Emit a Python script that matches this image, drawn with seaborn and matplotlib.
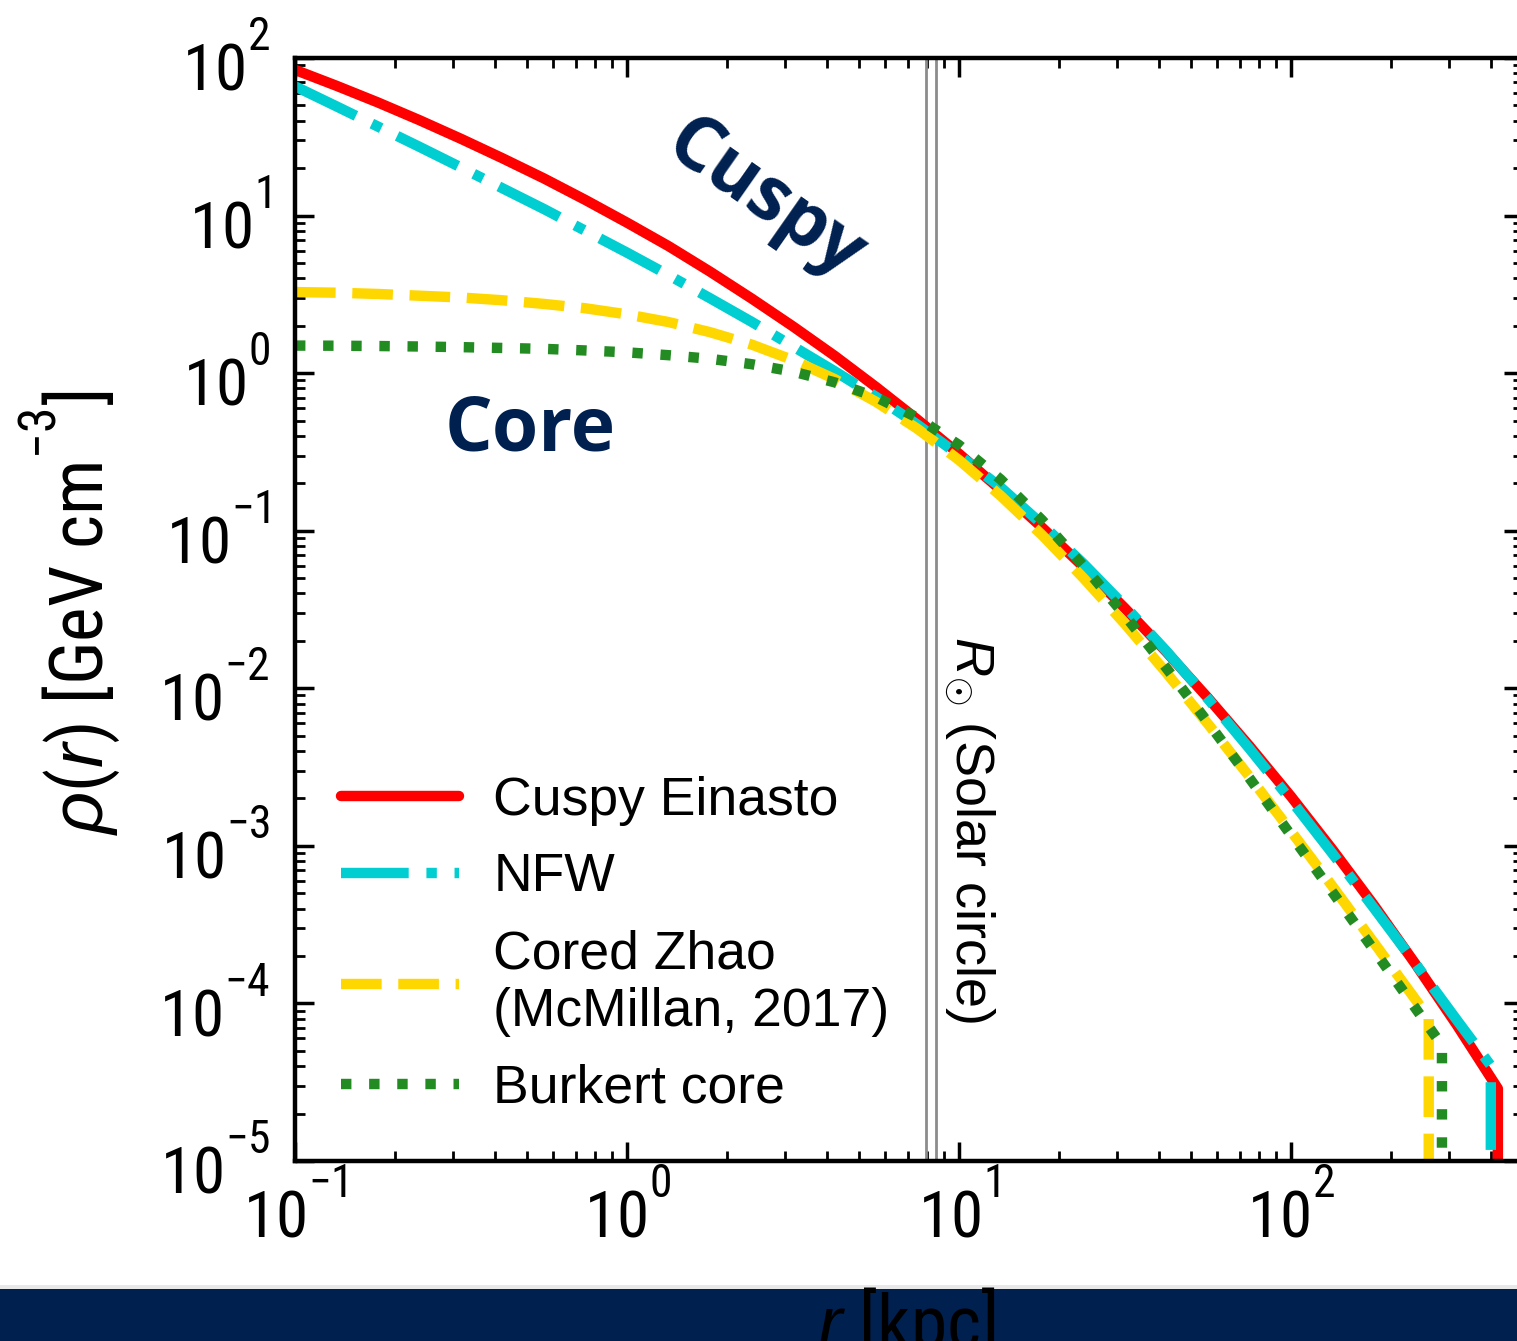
import numpy as np
import pandas as pd
import matplotlib
matplotlib.use("Agg")
import matplotlib.pyplot as plt
import seaborn as sns
from matplotlib import font_manager as fm
from matplotlib.patches import Rectangle
from matplotlib.ticker import LogLocator, NullFormatter

# ---------------- data ----------------
# radii sampled every 1/8 decade from 0.1 kpc to ~316 kpc
r_grid = [0.1, 0.1334, 0.1778, 0.2371, 0.3162, 0.4217, 0.5623, 0.7499, 1.0, 1.334, 1.778,
          2.371, 3.162, 4.217, 5.623, 7.499, 10.0, 13.34, 17.78, 23.71, 31.62, 42.17, 56.23,
          74.99, 100.0, 133.4, 177.8, 237.1, 316.2]

# Cuspy Einasto (ends with a drop at r ~ 420 kpc)
r_einasto = r_grid + [420, 420]
rho_einasto = [84.1, 66.6, 52.2, 40.3, 30.7, 23.1, 17.2, 12.55, 9.02, 6.40, 4.41, 2.98, 1.98,
               1.29, 0.817, 0.507, 0.308, 0.182, 0.105, 0.0590, 0.0322, 0.0170, 0.00869,
               0.00430, 0.00206, 9.46e-4, 4.20e-4, 1.78e-4, 7.28e-5, 2.88e-5, 1e-6]

# NFW (drop at r ~ 400 kpc)
r_nfw = r_grid + [400, 400]
rho_nfw = [66.1, 49.3, 36.7, 27.3, 20.2, 14.9, 11.0, 8.00, 5.82, 4.19, 2.99, 2.12, 1.48,
           1.03, 0.708, 0.471, 0.302, 0.189, 0.110, 0.0618, 0.0332, 0.0172, 0.00857,
           0.00414, 0.00195, 8.93e-4, 4.03e-4, 1.79e-4, 7.83e-5, 4.03e-5, 1e-6]

# Cored Zhao (McMillan 2017) (drop at r ~ 260 kpc)
r_zhao = r_grid[:28] + [260, 260]
rho_zhao = [3.27, 3.24, 3.18, 3.10, 3.02, 2.90, 2.75, 2.58, 2.36, 2.11, 1.82, 1.52, 1.21,
            0.918, 0.658, 0.443, 0.281, 0.167, 0.0940, 0.0501, 0.0256, 0.01253, 0.00594,
            0.00275, 0.00124, 5.53e-4, 2.43e-4, 1.06e-4, 8.11e-5, 1e-6]

# Burkert core (drop at r ~ 285 kpc)
r_burkert = r_grid[:28] + [285, 285]
rho_burkert = [1.496, 1.493, 1.486, 1.476, 1.462, 1.445, 1.426, 1.393, 1.355, 1.300, 1.233,
               1.140, 1.023, 0.875, 0.705, 0.521, 0.350, 0.212, 0.117, 0.0598, 0.0290,
               0.01343, 0.00607, 0.00269, 0.00117, 5.08e-4, 2.18e-4, 9.33e-5, 5.42e-5, 1e-6]

labels = ["Cuspy Einasto", "NFW", "Cored Zhao\n(McMillan, 2017)", "Burkert core"]
solar_lines = [7.95, 8.5]

# ---------------- style ----------------
sns.set_style("ticks")

try:
    import matplotlib._mathtext as _mtx
    _mtx.FontConstantsBase.sup1 = 1.2   # raise superscripts like the reference
except Exception:
    pass

_names = {f.name for f in fm.fontManager.ttflist}
NARROW = None
for cand in ["Liberation Sans Narrow", "Arial Narrow", "Roboto Condensed", "Open Sans Condensed"]:
    if cand in _names:
        NARROW = cand
        break
if NARROW is None:
    NARROW = "Liberation Sans"
    TICK_SIZE, LABEL_SIZE = 41, 46.5
else:
    TICK_SIZE, LABEL_SIZE = 47, 53

plt.rcParams.update({
    "font.family": ["Liberation Sans", "DejaVu Sans"],
    "mathtext.fontset": "custom",
    "mathtext.rm": NARROW,
    "mathtext.it": "Liberation Sans:italic",
    "mathtext.bf": "Liberation Sans:bold",
    "axes.unicode_minus": True,
    "text.color": "black",
    "axes.labelcolor": "black",
    "xtick.color": "black",
    "ytick.color": "black",
    "axes.edgecolor": "black",
})

W, H = 1517, 1341
NAVY = "#002050"
fig = plt.figure(figsize=(W / 100, H / 100), dpi=100)
ax = fig.add_axes([295 / W, 1 - 1161 / H, 1228 / W, 1103 / H])
ax.set_facecolor("white")

# navy band at the bottom of the slide
band = Rectangle((0, 0), 1, (H - 1289) / H, transform=fig.transFigure,
                 facecolor=NAVY, edgecolor="none", zorder=-1)
fig.add_artist(band)
shadow = Rectangle((0, (H - 1289) / H), 1, 4 / H, transform=fig.transFigure,
                   facecolor="#e8e8e8", edgecolor="none", zorder=-1)
fig.add_artist(shadow)

for xv in solar_lines:
    ax.axvline(xv, color="#8c8c8c", lw=2.0, zorder=1)

series = [
    (r_einasto, rho_einasto, labels[0], "#FF0000", "-"),
    (r_nfw, rho_nfw, labels[1], "#00CED1", (0, (6.5, 1.7, 1.0, 1.7))),
    (r_zhao, rho_zhao, labels[2], "#FFD700", (0, (3.9, 1.6))),
    (r_burkert, rho_burkert, labels[3], "#228B22", (0, (1.0, 1.7))),
]
for r, rho, lab, c, ls in series:
    df = pd.DataFrame({"r": r, "rho": rho})
    sns.lineplot(data=df, x="r", y="rho", ax=ax, color=c, linewidth=7.5,
                 linestyle=ls, label=lab, sort=False, estimator=None, zorder=2)

ax.set_xscale("log")
ax.set_yscale("log")
ax.set_xlim(0.1, 500)
ax.set_ylim(1e-5, 100)

ax.xaxis.set_major_locator(LogLocator(base=10, numticks=20))
ax.yaxis.set_major_locator(LogLocator(base=10, numticks=20))
ax.xaxis.set_minor_locator(LogLocator(base=10, subs=np.arange(2, 10), numticks=40))
ax.yaxis.set_minor_locator(LogLocator(base=10, subs=np.arange(2, 10), numticks=40))
ax.xaxis.set_minor_formatter(NullFormatter())
ax.yaxis.set_minor_formatter(NullFormatter())

ax.tick_params(which="both", direction="in", top=True, right=True, color="black",
               labelcolor="black")
ax.tick_params(which="major", length=14, width=2.5, labelsize=TICK_SIZE,
               labelfontfamily=NARROW)
ax.tick_params(which="minor", length=7, width=2)
ax.tick_params(axis="x", which="major", pad=8)
ax.tick_params(axis="y", which="major", pad=18)
for s in ax.spines.values():
    s.set_linewidth(3.2)
    s.set_color("black")

ax.set_ylabel(r"$\rho(r)$ [GeV cm$^{-3}$]", fontsize=LABEL_SIZE, family=NARROW, color="black")
ax.yaxis.set_label_coords(-0.1405, 0.4977)
ax.set_xlabel(r"$r$ [kpc]", fontsize=LABEL_SIZE, family=NARROW, color="black")
ax.xaxis.set_label_coords(0.498, -0.1124)

leg = ax.legend(loc="upper left", bbox_to_anchor=(0.0375, 0.3493), borderaxespad=0,
                borderpad=0, handlelength=2.2, handletextpad=0.65, labelspacing=0.5,
                frameon=False, prop={"family": "Liberation Sans", "size": 38.5})
for t in leg.get_texts():
    t.set_linespacing(1.2)
    t.set_color("black")

# annotations
fig.text(530 / W, 1 - 431 / H, "Core", ha="center", va="center", fontsize=54,
         family="Open Sans", weight="bold", color=NAVY)
fig.text(764 / W, 1 - 200 / H, "Cuspy", ha="center", va="center", rotation=-35,
         rotation_mode="anchor", fontsize=54, family="Open Sans", weight="bold", color=NAVY)
fig.text(969 / W, 1 - 636 / H, r"$R_{\odot}$ (Solar circle)", ha="center", va="top",
         rotation=270, fontsize=39, family="Liberation Sans", color="black")

fig.savefig("out.png", dpi=100)
